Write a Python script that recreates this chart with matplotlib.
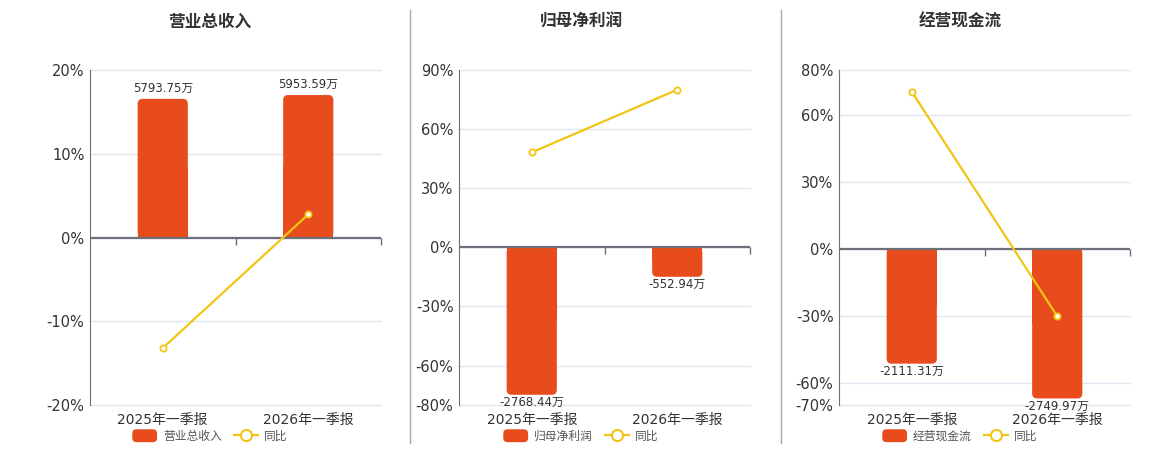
"""
三联图：营业总收入 / 归母净利润 / 经营现金流（柱：金额，折线：同比）
"""

import numpy as np
import matplotlib
matplotlib.use('Agg')
import matplotlib.pyplot as plt
from matplotlib.patches import FancyBboxPatch, Rectangle
from matplotlib.lines import Line2D
from matplotlib.markers import TICKDOWN
from matplotlib.legend_handler import HandlerPatch
from matplotlib.ticker import FuncFormatter

plt.rcParams['font.family'] = ['DejaVu Sans', 'Noto Sans CJK SC']

# 数据
periods = ['2025年一季报', '2026年一季报']
titles = ['营业总收入', '归母净利润', '经营现金流']
revenue = [5793.75, 5953.59]
net_profit = [-2768.44, -552.94]
cash_flow = [-2111.31, -2749.97]
revenue_yoy = [-13.2, 2.76]
net_profit_yoy = [48.2, 80.0]
cash_flow_yoy = [70.3, -30.25]
pct_ticks = [
    [-20, -10, 0, 10, 20],
    [-80, -60, -30, 0, 30, 60, 90],
    [-70, -60, -30, 0, 30, 60, 80],
]

BAR_COLOR = '#E84C1C'
LINE_COLOR = '#F2C413'
AXIS_COLOR = '#6E7079'
GRID_COLOR = '#E0E6F1'
TEXT_COLOR = '#333333'

W, H = 1160, 450
# 每个面板：坐标区左边界(px)，标题/图例中心(px)，柱子单位/百分比 比例
panels = [
    dict(left=90, center=210, scale=350.0),
    dict(left=459, center=581, scale=37.0),
    dict(left=839, center=960, scale=41.0),
]
AX_W, AX_TOP, AX_BOTTOM = 291, 70, 405


def rounded_bar(ax, x, h, width, px_x, px_y, radius=5):
    """带圆角的柱子（只在远离零线的一端圆角）"""
    r = radius / px_x
    aspect = px_x / px_y
    y0 = min(0, h)
    box = FancyBboxPatch((x - width / 2, y0), width, abs(h),
                         boxstyle=f'round,pad=0,rounding_size={r}',
                         mutation_aspect=aspect, facecolor=BAR_COLOR,
                         edgecolor='none', zorder=2)
    ax.add_patch(box)
    ax.add_patch(Rectangle((x - width / 2, 0), width, h / 2,
                           facecolor=BAR_COLOR, edgecolor='none', zorder=2))


class RoundBoxHandler(HandlerPatch):
    def create_artists(self, legend, orig_handle, xdescent, ydescent,
                       width, height, fontsize, trans):
        p = FancyBboxPatch((-xdescent, -ydescent), width, height,
                           boxstyle='round,pad=0,rounding_size=3',
                           facecolor=BAR_COLOR, edgecolor='none', transform=trans)
        return [p]


fig = plt.figure(figsize=(W / 100, H / 100), dpi=100)

bar_data = [revenue, net_profit, cash_flow]
yoy_data = [revenue_yoy, net_profit_yoy, cash_flow_yoy]
x = np.arange(len(periods))

for i, p in enumerate(panels):
    rect = [p['left'] / W, 1 - AX_BOTTOM / H, AX_W / W, (AX_BOTTOM - AX_TOP) / H]
    axb = fig.add_axes(rect)
    axl = axb.twinx()

    ticks = pct_ticks[i]
    lo, hi = ticks[0], ticks[-1]
    k = p['scale']

    # 柱子坐标轴
    axb.set_xlim(-0.5, len(periods) - 0.5)
    axb.set_ylim(lo * k, hi * k)
    axb.set_yticks([t * k for t in ticks])
    axb.tick_params(axis='y', left=False, labelleft=False)
    axb.grid(axis='y', color=GRID_COLOR, linewidth=1)
    for gl in axb.get_ygridlines():
        gl.set_clip_on(False)
    axb.set_axisbelow(True)
    for s in axb.spines.values():
        s.set_visible(False)
    axb.set_xticks(x)
    axb.set_xticklabels(periods, fontsize=10, color=TEXT_COLOR)
    axb.tick_params(axis='x', length=0, pad=6)

    px_x = AX_W / (len(periods))
    px_y = (AX_BOTTOM - AX_TOP) / ((hi - lo) * k)
    vals = bar_data[i]
    for xi, v in zip(x, vals):
        rounded_bar(axb, xi, v, 0.345, px_x, px_y)
        if v >= 0:
            axb.annotate(f'{v:.2f}万', (xi, v), xytext=(0, 3), textcoords='offset points',
                         ha='center', va='bottom', fontsize=8.5, color=TEXT_COLOR)
        else:
            axb.annotate(f'{v:.2f}万', (xi, v), xytext=(0, -1), textcoords='offset points',
                         ha='center', va='top', fontsize=8.5, color=TEXT_COLOR)

    # 零线 + 类目分隔刻度
    axb.axhline(0, color=AXIS_COLOR, linewidth=1.6, zorder=3)
    bounds = np.arange(-0.5, len(periods), 1.0)
    axb.plot(bounds[1:], np.zeros(len(bounds) - 1), linestyle='none', marker=TICKDOWN,
             markersize=5, markeredgewidth=1, color=AXIS_COLOR, zorder=3, clip_on=False)

    # 同比折线
    axl.set_ylim(lo, hi)
    axl.set_yticks(ticks)
    axl.yaxis.tick_left()
    axl.yaxis.set_major_formatter(FuncFormatter(lambda v, _: f'{v:.0f}%'))
    axl.tick_params(axis='y', length=0, labelsize=10.5, labelcolor=TEXT_COLOR, pad=4)
    for name in ['top', 'right', 'bottom']:
        axl.spines[name].set_visible(False)
    axl.spines['left'].set_color(AXIS_COLOR)
    axl.plot(x, yoy_data[i], color=LINE_COLOR, linewidth=1.6, marker='o',
             markersize=4.5, markerfacecolor='white', markeredgecolor=LINE_COLOR,
             markeredgewidth=1.3, zorder=5)

    fig.text(p['center'] / W, 1 - 22 / H, titles[i], ha='center', va='center',
             fontsize=12, fontweight='bold', color=TEXT_COLOR)

    bar_handle = Rectangle((0, 0), 1, 1, facecolor=BAR_COLOR, label=titles[i])
    line_handle = Line2D([0], [0], color=LINE_COLOR, linewidth=1.6, marker='o', markersize=8,
                         markerfacecolor='white', markeredgewidth=1.5, label='同比')
    fig.legend(handles=[bar_handle, line_handle], loc='center',
               bbox_to_anchor=(p['center'] / W, 1 - 436 / H),
               ncol=2, frameon=False, fontsize=8.5, labelcolor='#555555',
               handlelength=2.1, handleheight=1.3, handletextpad=0.5, columnspacing=1.0,
               handler_map={Rectangle: RoundBoxHandler()})

# 面板分隔线
for sx in [410, 781]:
    fig.add_artist(Line2D([sx / W, sx / W], [1 - 443 / H, 1 - 10 / H],
                          color='#AAAAAA', linewidth=1))

fig.savefig('out.png', dpi=100)
